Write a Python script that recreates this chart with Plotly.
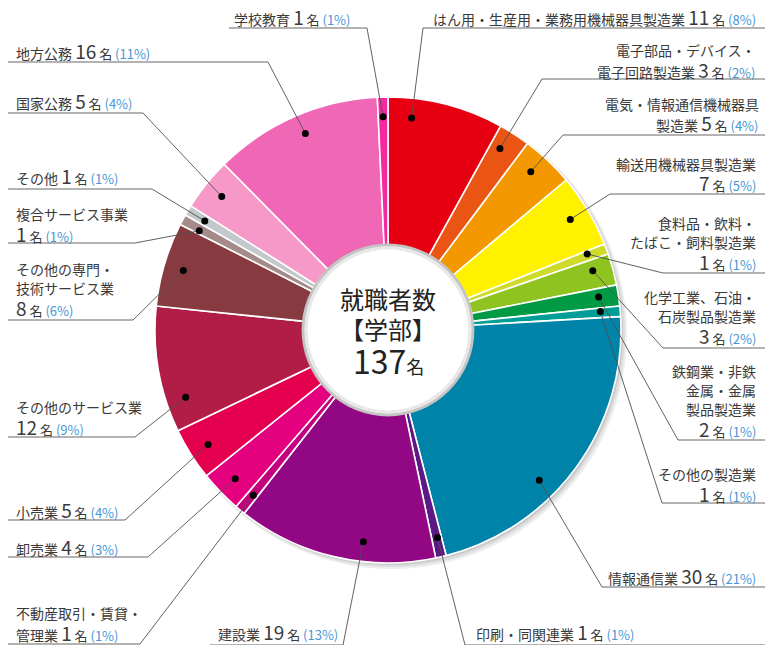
import math
import plotly.graph_objects as go

# ---------------- data ----------------
categories = [
    "はん用・生産用・業務用機械器具製造業", "電子部品・デバイス・電子回路製造業",
    "電気・情報通信機械器具製造業", "輸送用機械器具製造業",
    "食料品・飲料・たばこ・飼料製造業", "化学工業、石油・石炭製品製造業",
    "鉄鋼業・非鉄金属・金属製品製造業", "その他の製造業", "情報通信業",
    "印刷・同関連業", "建設業", "不動産取引・賃貸・管理業", "卸売業", "小売業",
    "その他のサービス業", "その他の専門・技術サービス業", "複合サービス事業",
    "その他", "国家公務", "地方公務", "学校教育",
]
counts = [11, 3, 5, 7, 1, 3, 2, 1, 30, 1, 19, 1, 4, 5, 12, 8, 1, 1, 5, 16, 1]
percents = [8, 2, 4, 5, 1, 2, 1, 1, 21, 1, 13, 1, 3, 4, 9, 6, 1, 1, 4, 11, 1]
display = [
    "はん用・生産用・業務用機械器具製造業", "電子部品・デバイス・<br>電子回路製造業",
    "電気・情報通信機械器具<br>製造業", "輸送用機械器具製造業<br>",
    "食料品・飲料・<br>たばこ・飼料製造業<br>", "化学工業、石油・<br>石炭製品製造業<br>",
    "鉄鋼業・非鉄<br>金属・金属<br>製品製造業<br>", "その他の製造業<br>", "情報通信業",
    "印刷・同関連業", "建設業", "不動産取引・賃貸・<br>管理業", "卸売業", "小売業",
    "その他のサービス業<br>", "その他の専門・<br>技術サービス業<br>", "複合サービス事業<br>",
    "その他", "国家公務", "地方公務", "学校教育",
]
center_title = ["就職者数", "【学部】"]
center_total_unit = "名"

# ---------------- styles / layout ----------------
colors = [
    "#E60012", "#EA5514", "#F39800", "#FFF100", "#CFDB2A", "#8FC31F", "#009944",
    "#009E96", "#0083A8", "#5B1A83", "#920783", "#C4007E", "#E4007F", "#E5004F",
    "#B21D48", "#873A40", "#A48A88", "#C3C8CD", "#F799C8", "#F067B5", "#F7289F",
]
TEXT = "#3a3a3a"
PCT = "#4a96d4"
FONT = "Noto Sans CJK JP"
W, H = 765, 645
CX, CY, R = 388, 330, 233
HOLE = 0.36
PITCH = 19

# label layout: anchor x, anchor side, underline y, underline x0, x1, elbow x, dot fraction in slice
lab_x = [757, 757, 760, 757, 757, 757, 757, 757, 757, 475, 217, 15, 15, 15, 15, 15, 15, 15, 15, 15, 233]
lab_side = ["right"] * 9 + ["left"] * 12
line_y = [28, 79, 135, 194, 273, 348, 440, 503, 587, 645, 645, 644, 557, 520, 437, 320, 243, 189, 113, 62, 28]
text_gap = [11, 10, 12, 11, 12, 13, 12, 10, 12, 14, 14, 12, 11, 11, 11, 13, 10, 14, 13, 12, 11]
line_x0 = [423, 542, 563, 610, 663, 663, 678, 662, 602, 465, 210, 8, 8, 8, 8, 8, 8, 8, 8, 8, 229]
line_x1 = [765] * 9 + [765, 343, 140, 148, 125, 135, 133, 135, 152, 143, 268, 367]
elbow_x = [423, 542, 563, 610, 663, 663, 678, 662, 602, 465, 343, 140, 148, 125, 135, 133, 135, 152, 143, 268, 367]
dot_frac = [0.22, 0.35, 0.40, 0.48, 0.3, 0.37, 0.43, 0.35, 0.61, 0.4, 0.37, 0.4,
            0.48, 0.48, 0.23, 0.49, 0.3, 0.45, 0.5, 0.52, 0.5]
DOT_R = 0.915


def px(x):
    return x / W


def py(y):
    return 1 - y / H


total = sum(counts)

fig = go.Figure(go.Pie(
    values=counts, labels=categories, sort=False, direction="clockwise", rotation=0,
    hole=HOLE, textinfo="none", textposition="none", showlegend=False,
    marker=dict(colors=colors, line=dict(color="white", width=1.6)),
    domain=dict(x=[px(CX - R), px(CX + R)], y=[py(CY + R), py(CY - R)]),
))

shapes = []
# drop shadow of the pie
for off, rr, col in [(4, R + 2, "#eeeeee"), (3, R + 1, "#dddddd"), (2, R, "#c8c8c8")]:
    shapes.append(dict(type="circle", xref="paper", yref="paper", layer="below",
                       x0=px(CX + off - rr), x1=px(CX + off + rr),
                       y0=py(CY + off + rr), y1=py(CY + off - rr),
                       fillcolor=col, line=dict(width=0)))
# white centre with ring
hr = R * HOLE
shapes.append(dict(type="circle", xref="paper", yref="paper", layer="above",
                   x0=px(CX - hr - 1), x1=px(CX + hr + 1), y0=py(CY + hr + 1), y1=py(CY - hr - 1),
                   fillcolor="white", line=dict(color="#c4c4c4", width=3)))
shapes.append(dict(type="circle", xref="paper", yref="paper", layer="above",
                   x0=px(CX - hr + 2), x1=px(CX + hr - 2), y0=py(CY + hr - 2), y1=py(CY - hr + 2),
                   fillcolor="rgba(0,0,0,0)", line=dict(color="#e8e8e8", width=3)))

annotations = []
dots = []
cum = 0
for i, v in enumerate(counts):
    ang = (cum + dot_frac[i] * v) / total * 2 * math.pi
    cum += v
    dx = CX + DOT_R * R * math.sin(ang)
    dy = CY - DOT_R * R * math.cos(ang)
    shapes.append(dict(type="line", xref="paper", yref="paper", layer="above",
                       x0=px(line_x0[i]), x1=px(line_x1[i]), y0=py(line_y[i]), y1=py(line_y[i]),
                       line=dict(color="#9a9a9a", width=1.5)))
    shapes.append(dict(type="line", xref="paper", yref="paper", layer="above",
                       x0=px(elbow_x[i]), y0=py(line_y[i]), x1=px(dx), y1=py(dy),
                       line=dict(color="#505050", width=0.9)))
    dots.append(dict(type="circle", xref="paper", yref="paper", layer="above",
                     x0=px(dx - 3.5), x1=px(dx + 3.5), y0=py(dy + 3.5), y1=py(dy - 3.5),
                     fillcolor="black", line=dict(width=0)))
    parts = display[i].split("<br>")
    num = (f"<span style='font-size:19px'>{counts[i]}</span>"
           f"<span style='font-size:13px'> 名 </span>"
           f"<span style='font-size:13px;color:{PCT}'>({percents[i]}%)</span>")
    if parts[-1] == "":
        parts[-1] = num
    else:
        parts[-1] = parts[-1] + " " + num
    base = line_y[i] - text_gap[i]
    n = len(parts)
    for k, line in enumerate(parts):
        yc = base - (n - 1 - k) * PITCH
        annotations.append(dict(x=px(lab_x[i]), y=py(yc), xref="paper", yref="paper",
                                xanchor=lab_side[i], yanchor="middle", align=lab_side[i],
                                text=line, showarrow=False, borderpad=0,
                                font=dict(family=FONT, size=14, color=TEXT)))
shapes += dots

annotations.append(dict(x=px(CX), y=py(298), xref="paper", yref="paper", showarrow=False,
                        text=center_title[0], font=dict(family=FONT, size=24, color="#222")))
annotations.append(dict(x=px(CX), y=py(329), xref="paper", yref="paper", showarrow=False,
                        text=center_title[1], font=dict(family=FONT, size=24, color="#222")))
annotations.append(dict(x=px(CX), y=py(360), xref="paper", yref="paper", showarrow=False,
                        text=f"{total}<span style='font-size:18px'>{center_total_unit}</span>",
                        font=dict(family=FONT, size=32, color="#222")))

fig.update_layout(width=W, height=H, margin=dict(l=0, r=0, t=0, b=0),
                  paper_bgcolor="white", plot_bgcolor="white",
                  shapes=shapes, annotations=annotations)
fig.write_html("out.html")
